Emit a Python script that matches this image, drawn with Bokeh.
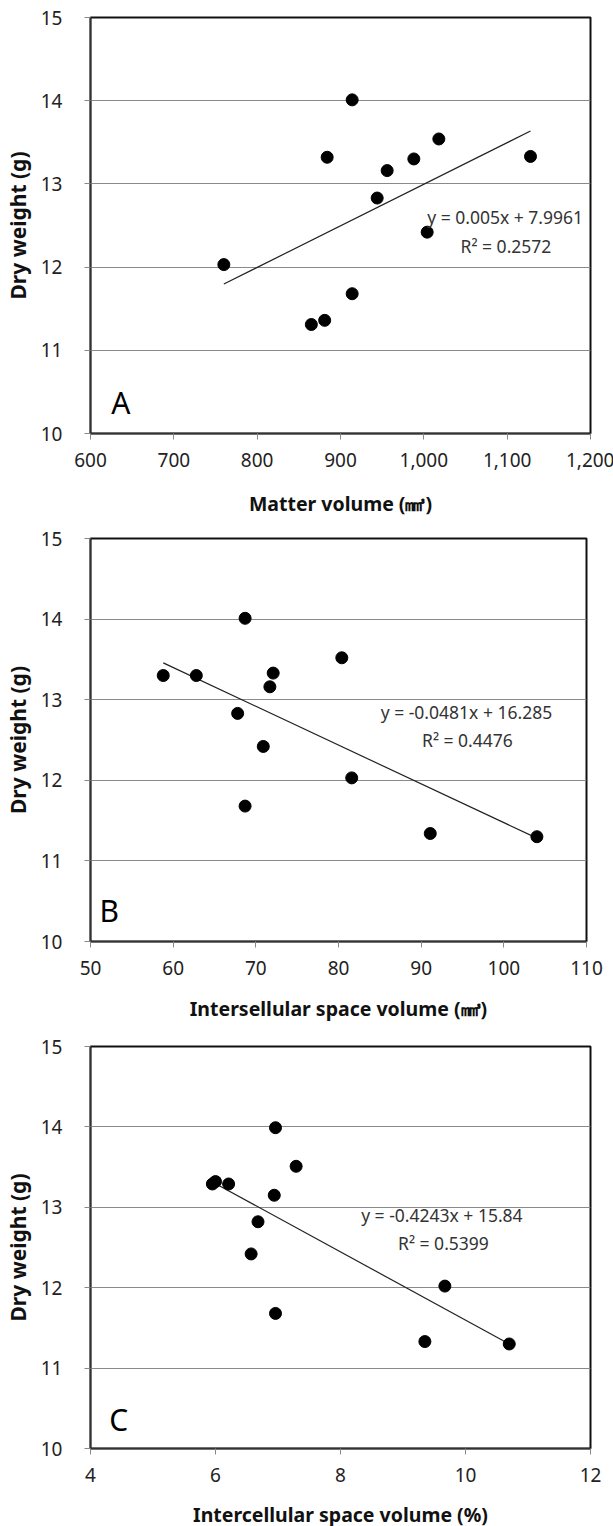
from bokeh.plotting import figure
from bokeh.layouts import column
from bokeh.models import Range1d, FixedTicker, NumeralTickFormatter
from bokeh.core.properties import value
from bokeh.embed import file_html
from bokeh.resources import INLINE

# ---- data ----
y_ticks = [10, 11, 12, 13, 14, 15]

a_x = [760, 884, 914, 956, 944, 988, 1018, 1004, 1128, 914, 865, 881]
a_y = [12.03, 13.32, 14.01, 13.16, 12.83, 13.30, 13.54, 12.42, 13.33, 11.68, 11.31, 11.36]
a_slope, a_icpt = 0.005, 7.9961
a_eq = "y = 0.005x  + 7.9961"
a_r2 = "R² = 0.2572"
a_xticks = [600, 700, 800, 900, 1000, 1100, 1200]

b_x = [58.8, 62.8, 68.7, 80.4, 72.1, 71.7, 67.8, 70.9, 81.6, 68.7, 91.1, 104.0]
b_y = [13.30, 13.30, 14.01, 13.52, 13.33, 13.16, 12.83, 12.42, 12.03, 11.68, 11.34, 11.30]
b_slope, b_icpt = -0.0481, 16.285
b_eq = "y = -0.0481x  + 16.285"
b_r2 = "R² = 0.4476"
b_xticks = [50, 60, 70, 80, 90, 100, 110]

c_x = [5.95, 6.00, 6.21, 6.96, 7.29, 6.94, 6.68, 6.57, 6.96, 9.67, 9.35, 10.70]
c_y = [13.29, 13.32, 13.29, 13.99, 13.51, 13.15, 12.82, 12.42, 11.68, 12.02, 11.33, 11.30]
c_slope, c_icpt = -0.4243, 15.84
c_eq = "y = -0.4243x  + 15.84"
c_r2 = "R² = 0.5399"
c_xticks = [4, 6, 8, 10, 12]

FONT = "Noto Sans"


def make(xs, ys, slope, icpt, eq, r2, xticks, xtitle, letter,
         fw, fh, left, right, top, bottom, title_standoff,
         eq_pos, r2_pos, letter_pos, comma=False):
    p = figure(frame_width=fw, frame_height=fh, output_backend="svg", toolbar_location=None,
               x_range=Range1d(xticks[0], xticks[-1]), y_range=Range1d(10, 15),
               min_border_left=left, min_border_right=right,
               min_border_top=top, min_border_bottom=bottom)
    p.background_fill_color = "white"
    p.border_fill_color = "white"
    p.outline_line_color = "#111111"
    p.outline_line_width = 2

    p.xgrid.visible = False
    p.ygrid.grid_line_color = "#8a8a8a"
    p.ygrid.grid_line_width = 1
    p.ygrid.ticker = FixedTicker(ticks=y_ticks)

    p.xaxis.ticker = FixedTicker(ticks=xticks)
    p.yaxis.ticker = FixedTicker(ticks=y_ticks)
    if comma:
        p.xaxis.formatter = NumeralTickFormatter(format="0,0")

    for ax in (p.xaxis, p.yaxis):
        ax.axis_line_color = "#333333"
        ax.axis_line_width = 1.5
        ax.major_tick_line_color = "#888888"
        ax.major_tick_in = 0
        ax.major_tick_out = 6
        ax.minor_tick_line_color = None
        ax.major_label_text_font = FONT
        ax.major_label_text_font_size = "19px"
        ax.major_label_text_color = "#222222"
        ax.axis_label_text_font = FONT
        ax.axis_label_text_font_style = "bold"
        ax.axis_label_text_color = "#111111"

    p.yaxis.axis_label_text_font_size = "21px"
    p.xaxis.axis_label_text_font_size = "19.5px"
    p.yaxis.major_label_standoff = 22
    p.yaxis.axis_label_standoff = 6
    p.xaxis.major_label_standoff = 13
    p.xaxis.axis_label_standoff = title_standoff
    p.yaxis.axis_label = "Dry weight (g)"
    p.xaxis.axis_label = xtitle

    # regression line from the stated equation over the data span
    x0, x1 = min(xs), max(xs)
    p.line([x0, x1], [slope * x0 + icpt, slope * x1 + icpt], line_color="#222222", line_width=1.2)

    p.scatter(xs, ys, size=12, fill_color="black", line_color="black")

    p.text(x=[eq_pos[0]], y=[eq_pos[1]], text=[eq], text_font=value(FONT),
           text_font_size="17.5px", text_color="#333333", text_baseline="middle", text_align="left")
    p.text(x=[r2_pos[0]], y=[r2_pos[1]], text=[r2], text_font=value(FONT),
           text_font_size="17.5px", text_color="#333333", text_baseline="middle", text_align="left")
    p.text(x=[letter_pos[0]], y=[letter_pos[1]], text=[letter], text_font=value(FONT),
           text_font_size="30px", text_color="black", text_baseline="middle", text_align="left")
    return p


pa = make(a_x, a_y, a_slope, a_icpt, a_eq, a_r2, a_xticks, "Matter volume (㎣)", "A",
          500, 416, 81, 24, 17, 87, 20, (1004, 12.6), (1044, 12.25), (625, 10.37), comma=True)
pb = make(b_x, b_y, b_slope, b_icpt, b_eq, b_r2, b_xticks, "Intersellular space volume (㎣)", "B",
          496, 403, 89, 20, 18, 81, 17, (85.1, 12.85), (90.1, 12.5), (51.1, 10.38))
pc = make(c_x, c_y, c_slope, c_icpt, c_eq, c_r2, c_xticks, "Intercellular space volume (%)", "C",
          500, 402, 87, 18, 22, 78, 16, (8.33, 12.91), (8.92, 12.55), (4.3, 10.36))

layout = column(pa, pb, pc, spacing=0)
open("out.html", "w").write(file_html(layout, INLINE))
